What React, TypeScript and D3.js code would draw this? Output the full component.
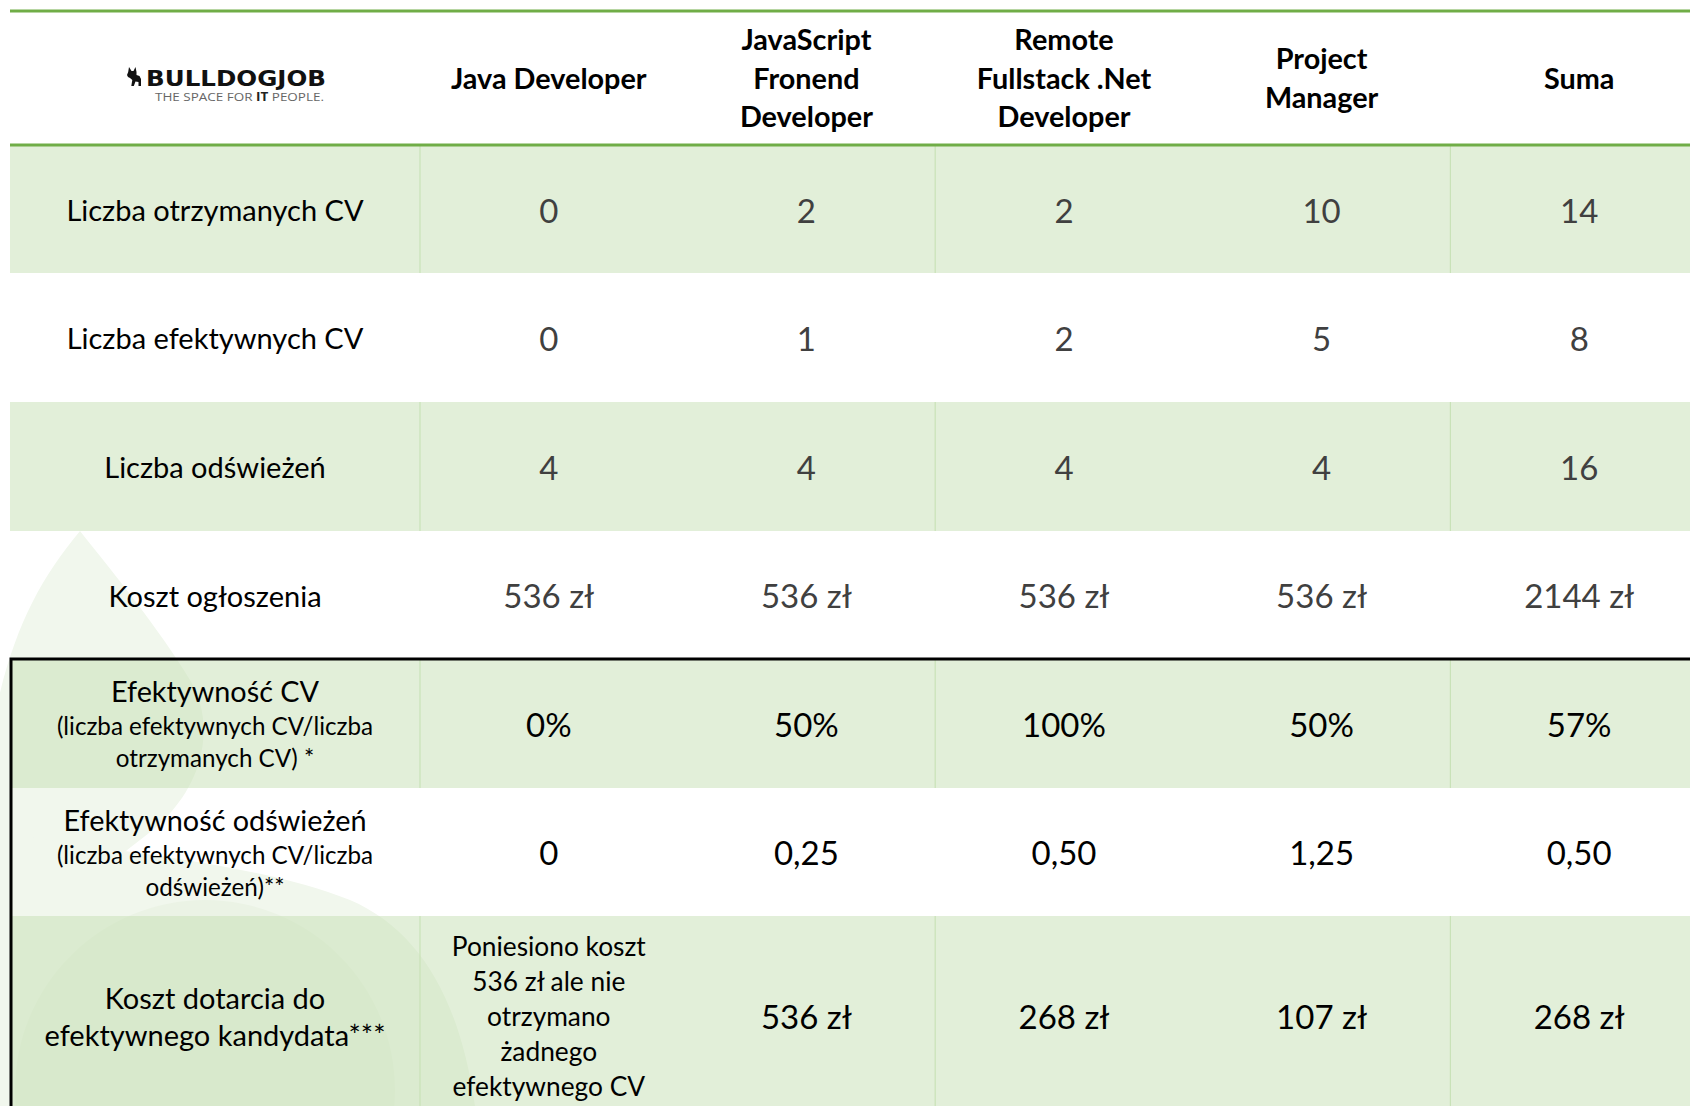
import React from "react";
import * as d3 from "d3";

// ---------- DATA ----------
const columnKeys = ["java", "js", "net", "pm", "sum"];
const headerLines = [
  ["Java Developer"],
  ["JavaScript", "Fronend", "Developer"],
  ["Remote", "Fullstack .Net", "Developer"],
  ["Project", "Manager"],
  ["Suma"],
];
const receivedCV = [0, 2, 2, 10, 14];
const effectiveCV = [0, 1, 2, 5, 8];
const refreshes = [4, 4, 4, 4, 16];
const adCost = [536, 536, 536, 536, 2144];
const cvEfficiency = [0, 50, 100, 50, 57];
const refreshEfficiency = [0, 0.25, 0.5, 1.25, 0.5];
const costPerEffective = [null, 536, 268, 107, 268];
const noEffectiveNote = ["Poniesiono koszt", "536 zł ale nie", "otrzymano", "żadnego", "efektywnego CV"];

const rowLabels = [
  { main: ["Liczba otrzymanych CV"], sub: [] },
  { main: ["Liczba efektywnych CV"], sub: [] },
  { main: ["Liczba odświeżeń"], sub: [] },
  { main: ["Koszt ogłoszenia"], sub: [] },
  { main: ["Efektywność CV"], sub: ["(liczba efektywnych CV/liczba", "otrzymanych CV) *"] },
  { main: ["Efektywność odświeżeń"], sub: ["(liczba efektywnych CV/liczba", "odświeżeń)**"] },
  { main: ["Koszt dotarcia do", "efektywnego kandydata***"], sub: [] },
];

// ---------- LAYOUT ----------
const W = 1690;
const H = 1106;
const FONT = "Lato, 'Open Sans', sans-serif";
const GREEN_LINE = "#70AD47";
const rowHeights = [127, 129, 129, 128, 129, 128, 200];
const headerTop = 11;
const headerBottom = 146;
const tableLeft = 10;
const labelRight = 420;
const colWidth = 257.6;

const fmtZl = (v: number) => `${v} zł`;
const fmtPct = (v: number) => `${v}%`;
const fmtDec = (v: number) => (v === 0 ? "0" : d3.format(".2f")(v).replace(".", ","));

export default function App() {
  const x = d3
    .scaleBand<string>()
    .domain(columnKeys)
    .range([labelRight, labelRight + colWidth * columnKeys.length])
    .paddingInner(0);

  const rowEdges = d3.cumsum([headerBottom, ...rowHeights]);
  const rowsTop = Array.from(rowEdges).slice(0, rowHeights.length);

  const valueRows: { texts: (string | null)[]; color: string }[] = [
    { texts: receivedCV.map(String), color: "#404040" },
    { texts: effectiveCV.map(String), color: "#404040" },
    { texts: refreshes.map(String), color: "#404040" },
    { texts: adCost.map(fmtZl), color: "#404040" },
    { texts: cvEfficiency.map(fmtPct), color: "#000" },
    { texts: refreshEfficiency.map(fmtDec), color: "#000" },
    { texts: costPerEffective.map((v) => (v == null ? null : fmtZl(v))), color: "#000" },
  ];

  const labelCx = (tableLeft + labelRight) / 2;
  const tableRight = x.range()[1];

  return (
    <svg
      width={W}
      height={H}
      style={{ position: "absolute", left: 0, top: 0, background: "#fff" }}
      fontFamily={FONT}
    >
      {/* decorative background shapes */}
      <g>
        <path
          d="M80,531 C35,585 8,640 -10,740 L-10,1106 L0,1106 C10,980 60,900 140,840 C210,790 215,720 190,680 C160,630 115,575 80,531 Z"
          fill="#f1f7ed"
        />
        <path
          d="M-10,830 C90,850 250,860 350,900 C420,930 460,1000 475,1106 L-10,1106 Z"
          fill="#f1f7ed"
        />
        <circle cx={205} cy={1090} r={190} fill="#ebf3e5" />
      </g>

      {/* rows */}
      {rowHeights.map((h, i) => (
        <rect
          key={`row-${i}`}
          x={tableLeft}
          y={rowsTop[i]}
          width={tableRight - tableLeft}
          height={h}
          fill={i % 2 === 0 ? "#c5e0b4" : "#ffffff"}
          fillOpacity={i % 2 === 0 ? 0.5 : 0}
        />
      ))}

      {/* vertical dividers in green rows */}
      {rowHeights.map((h, i) =>
        i % 2 === 0
          ? [labelRight, x("net")!, x("sum")!].map((lx, j) => (
              <line
                key={`div-${i}-${j}`}
                x1={lx}
                x2={lx}
                y1={rowsTop[i]}
                y2={rowsTop[i] + h}
                stroke="#c9e2b8"
                strokeWidth={1.2}
              />
            ))
          : null
      )}

      {/* header lines */}
      <line x1={tableLeft} x2={W} y1={headerTop} y2={headerTop} stroke={GREEN_LINE} strokeWidth={3} />
      <line x1={tableLeft} x2={W} y1={headerBottom - 1} y2={headerBottom - 1} stroke={GREEN_LINE} strokeWidth={3} />

      {/* black frame for efficiency section */}
      <path
        d={`M${W + 5},${rowsTop[4]} L${tableLeft + 1},${rowsTop[4]} L${tableLeft + 1},${H + 5}`}
        fill="none"
        stroke="#000"
        strokeWidth={3}
      />

      {/* logo */}
      <g>
        <path
          transform="translate(127,67)"
          d="M2,0 L4.5,4 L6.5,4 L8.5,0 L9.5,5 L9.5,8 L12.5,9 L14,12 L14,19 L11.5,19 L11.5,15 L8.5,14.5 L6.8,19 L4.3,19 L5.3,13 L3,11 L1,10 L0,8 L1.2,5 Z"
          fill="#111"
        />
        <text
          x={146}
          y={86}
          fontFamily="'DejaVu Sans', sans-serif"
          fontWeight="bold"
          fontSize={22}
          textLength={180}
          lengthAdjust="spacingAndGlyphs"
          fill="#111"
        >
          BULLDOGJOB
        </text>
        <text
          x={155}
          y={101}
          fontFamily="'Open Sans', sans-serif"
          fontSize={11.5}
          textLength={169}
          lengthAdjust="spacingAndGlyphs"
          fill="#666"
        >
          THE SPACE FOR <tspan fontWeight="bold" fill="#222">IT</tspan> PEOPLE.
        </text>
      </g>

      {/* header texts */}
      {headerLines.map((lines, i) => {
        const cx = x(columnKeys[i])! + x.bandwidth() / 2;
        const lh = 38.3;
        const cy = (headerTop + headerBottom) / 2 - 1;
        return (
          <text
            key={`h-${i}`}
            x={cx}
            textAnchor="middle"
            fontWeight="bold"
            fontSize={28.8}
            fill="#000"
          >
            {lines.map((ln, k) => (
              <tspan
                key={k}
                x={cx}
                y={cy + (k - (lines.length - 1) / 2) * lh}
                dominantBaseline="central"
              >
                {ln}
              </tspan>
            ))}
          </text>
        );
      })}

      {/* row labels */}
      {rowLabels.map((lab, i) => {
        const cy = rowsTop[i] + (i === 6 ? 100 : rowHeights[i] / 2);
        let lines: { t: string; size: number; y: number }[] = [];
        if (lab.sub.length) {
          lines = [
            { t: lab.main[0], size: 28.8, y: cy - 32.5 },
            { t: lab.sub[0], size: 24.2, y: cy + 2 },
            { t: lab.sub[1], size: 24.2, y: cy + 34 },
          ];
        } else {
          const n = lab.main.length;
          lines = lab.main.map((t, k) => ({ t, size: 29, y: cy + (k - (n - 1) / 2) * 37.5 }));
        }
        return (
          <g key={`lab-${i}`}>
            {lines.map((ln, k) => (
              <text
                key={k}
                x={labelCx}
                y={ln.y}
                textAnchor="middle"
                dominantBaseline="central"
                fontSize={ln.size}
                fill="#000"
              >
                {ln.t}
              </text>
            ))}
          </g>
        );
      })}

      {/* values */}
      {valueRows.map((row, i) => {
        const cy = rowsTop[i] + (i === 6 ? 100 : rowHeights[i] / 2);
        return (
          <g key={`vals-${i}`}>
            {row.texts.map((t, j) => {
              const cx = x(columnKeys[j])! + x.bandwidth() / 2;
              if (t == null) {
                return (
                  <text key={j} textAnchor="middle" fontSize={26.3} fill="#000">
                    {noEffectiveNote.map((ln, k) => (
                      <tspan
                        key={k}
                        x={cx}
                        y={cy + (k - (noEffectiveNote.length - 1) / 2) * 34.8}
                        dominantBaseline="central"
                      >
                        {ln}
                      </tspan>
                    ))}
                  </text>
                );
              }
              return (
                <text
                  key={j}
                  x={cx}
                  y={cy}
                  textAnchor="middle"
                  dominantBaseline="central"
                  fontSize={33}
                  fill={row.color}
                >
                  {t}
                </text>
              );
            })}
          </g>
        );
      })}
    </svg>
  );
}
